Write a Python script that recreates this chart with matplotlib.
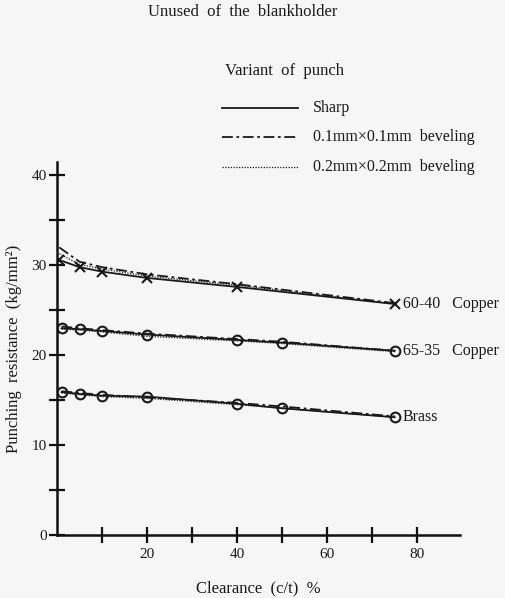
import matplotlib
matplotlib.use("Agg")
import matplotlib.pyplot as plt
from matplotlib.lines import Line2D

plt.rcParams['font.family'] = ['Liberation Serif', 'DejaVu Serif']

# Clearance (c/t) % sample points
clear_6040 = [0.5, 5, 10, 20, 40, 75]
clear_6535 = [1, 5, 10, 20, 40, 50, 75]
clear_brass = [1, 5, 10, 20, 40, 50, 75]

# Punching resistance (kg/mm^2) for each punch variant
sharp_6040 = [30.6, 29.8, 29.3, 28.6, 27.6, 25.7]
bev01_6040 = [32.0, 30.4, 29.8, 29.0, 27.9, 25.8]
bev02_6040 = [31.3, 30.1, 29.6, 28.8, 27.8, 25.7]

sharp_6535 = [23.0, 22.9, 22.7, 22.3, 21.7, 21.4, 20.5]
bev01_6535 = [23.2, 23.0, 22.8, 22.4, 21.8, 21.5, 20.5]
bev02_6535 = [22.9, 22.8, 22.6, 22.1, 21.6, 21.3, 20.4]

sharp_brass = [15.9, 15.7, 15.5, 15.4, 14.6, 14.1, 13.1]
bev01_brass = [16.0, 15.8, 15.6, 15.3, 14.7, 14.3, 13.2]
bev02_brass = [15.8, 15.6, 15.4, 15.2, 14.5, 14.1, 13.1]

material_labels = ["60-40   Copper", "65-35   Copper", "Brass"]
variant_labels = ["Sharp", "0.1mm×0.1mm  beveling", "0.2mm×0.2mm  beveling"]

W, H = 506, 598
fig = plt.figure(figsize=(W / 100, H / 100), dpi=100)
bg = '#f6f6f6'
ink = '#1a1a1a'
fig.patch.set_facecolor(bg)

ax = fig.add_axes([57 / W, 1 - 535 / H, (460 - 57) / W, (535 - 162) / H])
ax.set_facecolor(bg)
ax.set_xlim(0, 89.5)
ax.set_ylim(0, 41.5)

styles = [dict(ls='-', lw=1.3),
          dict(ls=(0, (6, 2, 1.5, 2)), lw=1.3),
          dict(ls=(0, (1, 1.2)), lw=0.9)]

groups = [
    (clear_6040, [sharp_6040, bev01_6040, bev02_6040], 'x'),
    (clear_6535, [sharp_6535, bev01_6535, bev02_6535], 'o'),
    (clear_brass, [sharp_brass, bev01_brass, bev02_brass], 'o'),
]

for (xs, series, mk), label in zip(groups, material_labels):
    for i, ys in enumerate(series):
        kw = dict(color=ink, **styles[i])
        if i == 0:
            kw.update(marker=mk, markersize=7,
                      markerfacecolor='none', markeredgecolor=ink,
                      markeredgewidth=1.5)
        ax.plot(xs, ys, **kw)
    ax.annotate(label, xy=(xs[-1], series[0][-1]), xytext=(6, 0),
                textcoords='offset points', va='center', ha='left',
                fontsize=11.5, color=ink)

for s in ['top', 'right']:
    ax.spines[s].set_visible(False)
for s in ['left', 'bottom']:
    ax.spines[s].set_linewidth(1.8)
    ax.spines[s].set_color('#111111')

ax.set_xticks([10, 20, 30, 40, 50, 60, 70, 80])
ax.set_xticklabels(['', '20', '', '40', '', '60', '', '80'])
ax.set_yticks([0, 5, 10, 15, 20, 25, 30, 35, 40])
ax.set_yticklabels(['0', '', '10', '', '20', '', '30', '', '40'])
ax.tick_params(axis='both', direction='inout', length=11, width=1.6,
               color='#111111', labelsize=11, labelcolor=ink)
ax.tick_params(axis='x', pad=4)
ax.tick_params(axis='y', pad=2)

ax.set_xlabel("Clearance  (c/t)  %", fontsize=12, color=ink, labelpad=14)
ax.set_ylabel("Punching  resistance  (kg/mm²)", fontsize=12, color=ink,
              labelpad=7)

# Title and punch-variant key
fig.text(243 / W, 1 - 12 / H, "Unused  of  the  blankholder", ha='center',
         va='center', fontsize=12, color=ink)
fig.text(285 / W, 1 - 71 / H, "Variant  of  punch", ha='center',
         va='center', fontsize=12, color=ink)
rows_y = [108, 137, 167]
for (sty, lab, yy) in zip(styles, variant_labels, rows_y):
    fig.add_artist(Line2D([222 / W, 298 / W], [1 - yy / H, 1 - yy / H],
                          color=ink, **sty))
    fig.text(313 / W, 1 - yy / H, lab, ha='left', va='center',
             fontsize=11.5, color=ink)

fig.savefig("out.png", dpi=100, facecolor=bg)
